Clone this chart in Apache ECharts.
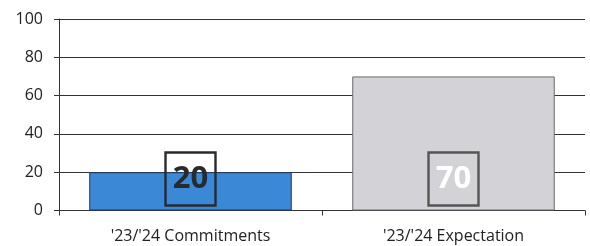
<!DOCTYPE html>
<html>
<head>
<meta charset="utf-8">
<script src="https://cdn.jsdelivr.net/npm/echarts@6/dist/echarts.min.js"></script>
<style>
  html, body { margin: 0; padding: 0; background: #fff; }
  #chart { width: 590px; height: 246px; }
</style>
</head>
<body>
<div id="chart"></div>
<script>
// chart data
var categories = ["'23/'24 Commitments", "'23/'24 Expectation"];
var values = [20, 70];
var barColors = ['#3b88d6', '#d3d3d7'];
var barBorders = ['#1d3a66', '#6a6a6a'];
var labelColors = ['#2a2a2a', '#ffffff'];
var labelBoxBorders = ['#2a2a2a', '#555555'];

var chart = echarts.init(document.getElementById('chart'), null, { renderer: 'canvas' });

var option = {
  animation: false,
  backgroundColor: '#ffffff',
  grid: { left: 59, right: 5, top: 19, bottom: 35.5 },
  xAxis: {
    type: 'category',
    data: categories,
    axisLine: { show: true, lineStyle: { color: '#333', width: 1 } },
    axisTick: { show: true, length: 5, lineStyle: { color: '#333' } },
    axisLabel: {
      color: '#222',
      fontFamily: 'Open Sans',
      fontSize: 16,
      margin: 18
    }
  },
  yAxis: {
    type: 'value',
    min: 0,
    max: 100,
    interval: 20,
    axisLine: { show: true, lineStyle: { color: '#333', width: 1 } },
    axisTick: { show: true, length: 5, lineStyle: { color: '#333' } },
    axisLabel: {
      color: '#222',
      fontFamily: 'Open Sans',
      fontSize: 16,
      margin: 16
    },
    splitLine: { show: true, lineStyle: { color: '#333', width: 1 } }
  },
  series: [{
    type: 'bar',
    barWidth: '77%',
    data: values.map(function (v, i) {
      return {
        value: v,
        itemStyle: {
          color: barColors[i],
          borderColor: barBorders[i],
          borderWidth: 1
        },
        label: {
          color: labelColors[i],
          borderColor: labelBoxBorders[i]
        }
      };
    }),
    label: {
      show: true,
      position: 'insideBottom',
      distance: 5,
      fontFamily: 'Open Sans',
      fontWeight: 'bold',
      fontSize: 31,
      lineHeight: 33,
      width: 34,
      height: 33,
      align: 'center',
      padding: [10, 8, 10, 8],
      borderWidth: 1.2,
      backgroundColor: 'transparent'
    }
  }]
};

chart.setOption(option);
</script>
</body>
</html>
